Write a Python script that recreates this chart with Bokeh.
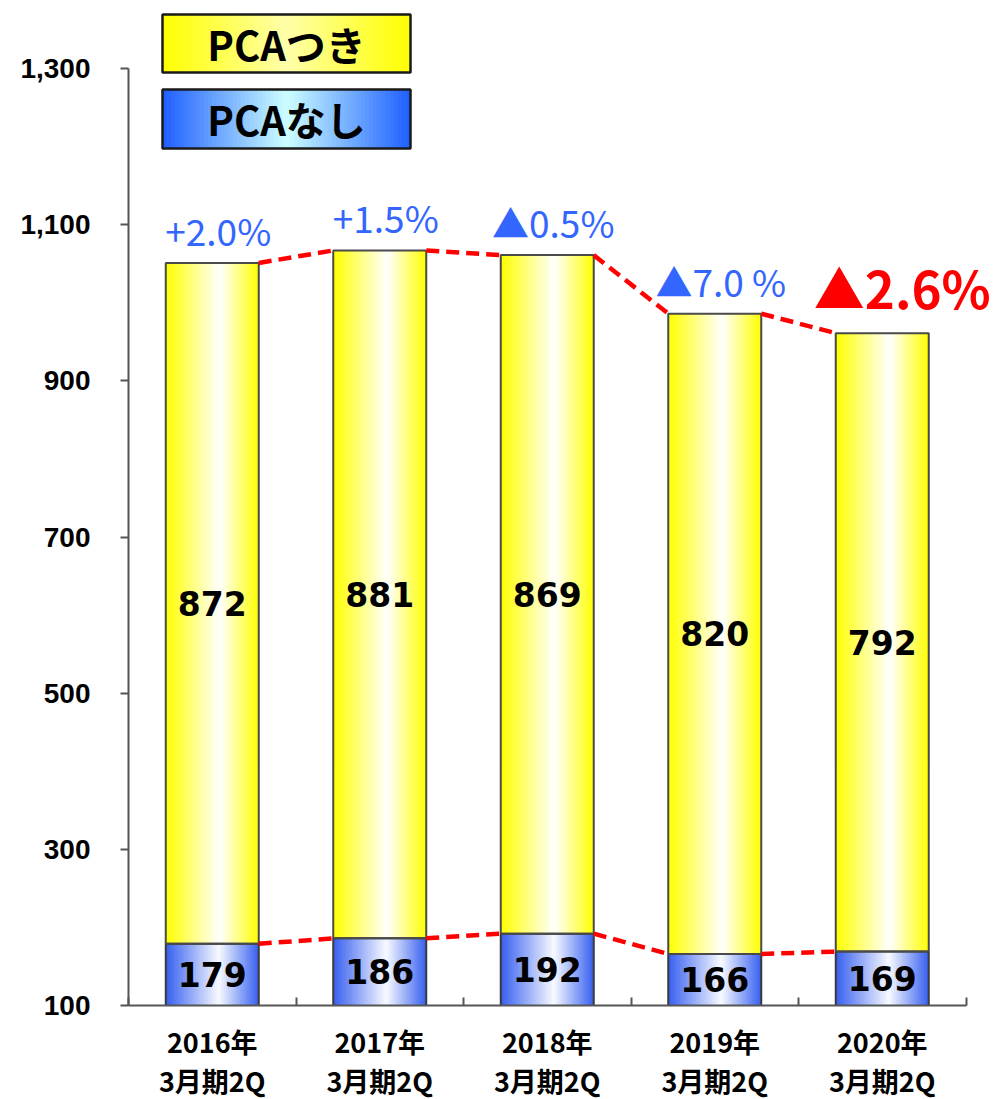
import numpy as np
from bokeh.plotting import figure
from bokeh.models import Range1d, FixedTicker, NumeralTickFormatter
from bokeh.core.properties import value
from bokeh.embed import file_html
from bokeh.resources import INLINE

# ---------------- data ----------------
categories = ["2016年\n3月期2Q", "2017年\n3月期2Q", "2018年\n3月期2Q",
              "2019年\n3月期2Q", "2020年\n3月期2Q"]
pca_nashi = [179, 186, 192, 166, 169]      # PCAなし (bottom, blue)
pca_tsuki = [872, 881, 869, 820, 792]      # PCAつき (top, yellow)
growth_labels = ["+2.0%", "+1.5%", "▲0.5%", "▲7.0 %", "▲2.6%"]
y_ticks = [100, 300, 500, 700, 900, 1100, 1300]
legend_labels = ["PCAつき", "PCAなし"]

# ---------------- geometry ----------------
Y_MIN, Y_MAX = 100, 1300
LEFT = 128           # left border (px)
BOTTOM = 94          # bottom border (px)
FRAME_W = 868
FRAME_H = 1005
PX_X = 167.5                 # px per category
PX_Y = 937.0 / (Y_MAX - Y_MIN)
X_END = FRAME_W / PX_X
Y_END = Y_MIN + FRAME_H / PX_Y
BAR_W = 93.0 / PX_X
PAGE = 0


def px_to_x(px):
    return (px - PAGE - LEFT) / PX_X


def py_to_y(py):
    return Y_MIN + (FRAME_H - (py - PAGE)) / PX_Y


def interp_color(t, stops):
    for (t0, c0), (t1, c1) in zip(stops[:-1], stops[1:]):
        if t0 <= t <= t1:
            f = (t - t0) / (t1 - t0) if t1 > t0 else 0
            c = [int(round(a + (b - a) * f)) for a, b in zip(c0, c1)]
            return "#%02x%02x%02x" % tuple(c)
    return "#%02x%02x%02x" % tuple(stops[-1][1])


def gradient_quads(p, lefts, rights, bottoms, tops, stops, n=40):
    L, R, B, T, C = [], [], [], [], []
    for l, r, b, t in zip(lefts, rights, bottoms, tops):
        step = (r - l) / n
        for k in range(n):
            L.append(l + k * step)
            R.append(min(l + (k + 1.7) * step, r))
            B.append(b)
            T.append(t)
            C.append(interp_color((k + 0.5) / n, stops))
    p.quad(left=L, right=R, bottom=B, top=T, fill_color=C, line_color=None)


YELLOW_STOPS = [(0.0, (255, 255, 0)), (0.58, (255, 255, 255)), (1.0, (255, 255, 0))]
BLUE_STOPS = [(0.0, (55, 95, 240)), (0.57, (248, 250, 255)), (1.0, (55, 95, 240))]
LEG_YELLOW = [(0.0, (255, 255, 0)), (0.5, (255, 255, 170)), (1.0, (255, 255, 0))]
LEG_BLUE = [(0.0, (30, 95, 255)), (0.5, (205, 255, 255)), (1.0, (30, 95, 255))]

# ---------------- figure ----------------
p = figure(frame_width=FRAME_W, frame_height=FRAME_H,
           x_range=Range1d(0, X_END), y_range=Range1d(Y_MIN, Y_END),
           output_backend="svg", toolbar_location=None,
           min_border_left=LEFT, min_border_right=0, min_border_top=0,
           min_border_bottom=BOTTOM)
p.grid.visible = False
p.outline_line_color = None
p.background_fill_color = "white"
p.border_fill_color = "white"

AX_COL = "#555555"
# y axis
ya = p.yaxis[0]
ya.bounds = (Y_MIN, Y_MAX)
ya.ticker = FixedTicker(ticks=y_ticks)
ya.formatter = NumeralTickFormatter(format="0,0")
ya.axis_line_color = AX_COL
ya.axis_line_width = 2
ya.major_tick_line_color = AX_COL
ya.major_tick_line_width = 2
ya.major_tick_in = 0
ya.major_tick_out = 8
ya.minor_tick_line_color = None
ya.major_label_standoff = 30
ya.major_label_text_font = "Liberation Sans"
ya.major_label_text_font_style = "bold"
ya.major_label_text_font_size = "28px"
ya.major_label_text_color = "black"

# x axis
n = len(categories)
centers = [i + 0.5 for i in range(n)]
xa = p.xaxis[0]
xa.bounds = (0, n)
xa.ticker = FixedTicker(ticks=centers, minor_ticks=list(range(n + 1)))
xa.major_label_overrides = {c: lab for c, lab in zip(centers, categories)}
xa.axis_line_color = AX_COL
xa.axis_line_width = 2
xa.major_tick_line_color = None
xa.major_tick_in = 0
xa.major_tick_out = 0
xa.minor_tick_line_color = AX_COL
xa.minor_tick_line_width = 2
xa.minor_tick_in = 8
xa.minor_tick_out = 0
xa.major_label_standoff = 16
xa.major_label_text_font = "Noto Sans CJK JP"
xa.major_label_text_font_style = "bold"
xa.major_label_text_font_size = "27px"
xa.major_label_text_line_height = 1.0
xa.major_label_text_color = "black"

# ---------------- bars ----------------
totals = [a + b for a, b in zip(pca_nashi, pca_tsuki)]
lefts = [c - BAR_W / 2 for c in centers]
rights = [c + BAR_W / 2 for c in centers]
zeros = [0] * n

gradient_quads(p, lefts, rights, zeros, pca_nashi, BLUE_STOPS)
gradient_quads(p, lefts, rights, pca_nashi, totals, YELLOW_STOPS)
p.quad(left=lefts, right=rights, bottom=zeros, top=pca_nashi,
       fill_color=None, line_color="#3a3a3a", line_width=2)
p.quad(left=lefts, right=rights, bottom=pca_nashi, top=totals,
       fill_color=None, line_color="#4a4a4a", line_width=2)

# ---------------- dashed connectors ----------------
for series in (totals, pca_nashi):
    p.segment(x0=rights[:-1], y0=series[:-1], x1=lefts[1:], y1=series[1:],
              line_color="#ff0000", line_width=4.5, line_dash="13 7")

# ---------------- value labels ----------------
p.text(x=centers, y=[b + t / 2 for b, t in zip(pca_nashi, pca_tsuki)],
       text=[str(v) for v in pca_tsuki], text_font=value("DejaVu Sans"),
       text_font_style="bold", text_font_size="33px", text_align="center",
       text_baseline="middle", text_color="black")
p.text(x=centers, y=[(Y_MIN + b) / 2 for b in pca_nashi],
       text=[str(v) for v in pca_nashi], text_font=value("DejaVu Sans"),
       text_font_style="bold", text_font_size="33px", text_align="center",
       text_baseline="middle", text_color="black")

# growth labels
GAP = 33 / PX_Y
p.text(x=[c + 6 / PX_X for c in centers[:-1]], y=[t + GAP for t in totals[:-1]],
       text=growth_labels[:-1],
       text_font=value("Noto Sans CJK JP"), text_font_size="37px",
       text_align="center", text_baseline="alphabetic", text_color="#3366ff")
p.text(x=[centers[-1] + 20 / PX_X], y=[totals[-1] + 46 / PX_Y], text=[growth_labels[-1]],
       text_font=value("Noto Sans CJK JP"), text_font_style="bold",
       text_font_size="51px", text_align="center", text_baseline="alphabetic",
       text_color="#ff0000")

# ---------------- legend boxes ----------------
leg_l = px_to_x(162)
leg_r = px_to_x(410)
leg_boxes = [(py_to_y(72), py_to_y(14)), (py_to_y(148), py_to_y(89))]
for (b, t), stops in zip(leg_boxes, (LEG_YELLOW, LEG_BLUE)):
    gradient_quads(p, [leg_l], [leg_r], [b], [t], stops, n=60)
p.quad(left=[leg_l] * 2, right=[leg_r] * 2,
       bottom=[bt[0] for bt in leg_boxes], top=[bt[1] for bt in leg_boxes],
       fill_color=None, line_color="#1a1a1a", line_width=2.5)
p.text(x=[(leg_l + leg_r) / 2] * 2, y=[(b + t) / 2 for b, t in leg_boxes],
       text=legend_labels, text_font=value("Noto Sans CJK JP"),
       text_font_style="bold", text_font_size="40px", text_align="center",
       text_baseline="middle", text_color="black")

open("out.html", "w").write(file_html(p, INLINE))
